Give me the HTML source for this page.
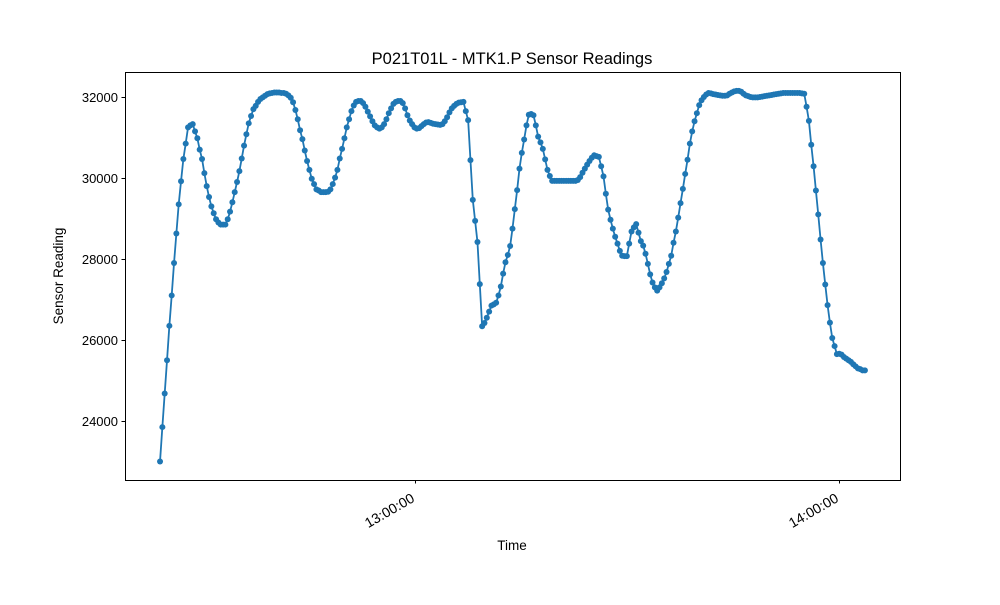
<!DOCTYPE html>
<html><head><meta charset="utf-8"><style>
body{margin:0;background:#fff;font-family:"Liberation Sans","DejaVu Sans",sans-serif}
svg text{font-family:"Liberation Sans","DejaVu Sans",sans-serif}
</style></head><body>
<svg id="chart" width="1000" height="600" xmlns="http://www.w3.org/2000/svg">
<rect width="1000" height="600" fill="#fff"/>
<text x="512" y="64" font-size="16.5" text-anchor="middle">P021T01L - MTK1.P Sensor Readings</text>
<text x="512" y="550" font-size="13.5" text-anchor="middle">Time</text>
<text transform="translate(63,276) rotate(-90)" font-size="13.5" text-anchor="middle">Sensor Reading</text>
<g id="axes"></g>
<g id="series"></g>
<rect x="125.5" y="72.5" width="775" height="408" fill="none" stroke="#000" stroke-width="1"/>
</svg>
<script>
const startTime = "12:23:55";
const endTime = "14:03:40";
const values = [23000,23850,24680,25500,26350,27100,27900,28630,29350,29920,30470,30850,31250,31300,31330,31150,30980,30700,30470,30120,29800,29530,29300,29130,28980,28900,28850,28850,28850,28980,29170,29400,29650,29900,30170,30480,30800,31080,31350,31530,31700,31780,31880,31950,31990,32030,32070,32090,32100,32110,32110,32110,32100,32100,32080,32040,31980,31870,31680,31450,31180,30960,30680,30420,30200,29980,29850,29720,29690,29650,29650,29650,29660,29720,29850,30010,30200,30480,30720,30980,31250,31450,31650,31790,31880,31900,31900,31850,31760,31640,31520,31400,31300,31250,31220,31250,31330,31450,31600,31720,31830,31880,31900,31900,31850,31720,31550,31420,31330,31250,31220,31230,31280,31330,31370,31380,31360,31340,31330,31320,31310,31330,31400,31500,31620,31720,31780,31830,31860,31870,31880,31650,31430,30440,29460,28940,28420,27380,26340,26420,26550,26700,26850,26880,26920,27100,27320,27640,27920,28100,28320,28750,29230,29700,30230,30620,30950,31300,31560,31580,31550,31300,31020,30880,30720,30460,30200,30050,29930,29930,29930,29930,29930,29930,29930,29930,29930,29930,29930,29950,30020,30130,30230,30330,30420,30500,30560,30540,30520,30290,30040,29610,29220,28970,28750,28550,28380,28200,28080,28070,28070,28380,28680,28780,28860,28650,28440,28330,28130,27880,27620,27420,27300,27220,27300,27400,27520,27680,27880,28080,28400,28680,29020,29380,29730,30100,30450,30850,31150,31400,31600,31800,31920,32000,32060,32100,32090,32070,32060,32050,32040,32030,32030,32040,32080,32110,32140,32150,32150,32130,32080,32040,32020,32000,31990,31990,31990,32000,32010,32020,32030,32040,32050,32060,32070,32080,32090,32100,32100,32100,32100,32100,32100,32100,32100,32090,32080,31760,31410,30820,30290,29690,29100,28480,27900,27370,26860,26430,26050,25850,25650,25660,25640,25580,25540,25500,25460,25400,25350,25300,25280,25250,25250];
const yTicks = [24000,26000,28000,30000,32000];
const xTickLabels = ["13:00:00","14:00:00"];

const NS="http://www.w3.org/2000/svg";
const L=125,R=900,T=72,B=480;
const xMin=-41.04, xMax=68.63; // minutes relative to 13:00
const yMin=22543, yMax=32617;
function toMin(s){const p=s.split(':').map(Number);return p[0]*60+p[1]+p[2]/60-780;}
const xs=v=>L+(v-xMin)/(xMax-xMin)*(R-L);
const ys=v=>B-(v-yMin)/(yMax-yMin)*(B-T);
const t0=toMin(startTime), t1=toMin(endTime);
const times=values.map((_,i)=>t0+(t1-t0)*i/(values.length-1));
function mk(tag,attrs,parent){const e=document.createElementNS(NS,tag);for(const k in attrs)e.setAttribute(k,attrs[k]);parent.appendChild(e);return e;}
const axes=document.getElementById('axes');
yTicks.forEach(v=>{
  const y=Math.round(ys(v))+0.5;
  const tk=mk('line',{x1:L-3.5,x2:L,y1:y,y2:y,stroke:'#000'},axes);
  
  
  const tx=mk('text',{x:L-7,y:y+4.5,'font-size':'13','text-anchor':'end'},axes);
  tx.textContent=v;
  
  
});
xTickLabels.forEach(s=>{
  const x=Math.round(xs(toMin(s)))+0.5;
  const tk=mk('line',{x1:x,x2:x,y1:B,y2:B+3.5,stroke:'#000'},axes);
  
  
  const tx=mk('text',{'font-size':'14','text-anchor':'end',transform:`translate(${x},${B+21}) rotate(-30)`},axes);
  tx.textContent=s;
  
  
});
const g=document.getElementById('series');
const pts=values.map((v,i)=>xs(times[i]).toFixed(2)+','+ys(v).toFixed(2)).join(' ');
const line=mk('polyline',{points:pts,fill:'none',stroke:'#1f77b4','stroke-width':'1.8'},g);


values.forEach((v,i)=>{
  const c=mk('circle',{cx:xs(times[i]),cy:ys(v),r:3,fill:'#1f77b4'},g);
  
  
});
</script>
</body></html>
